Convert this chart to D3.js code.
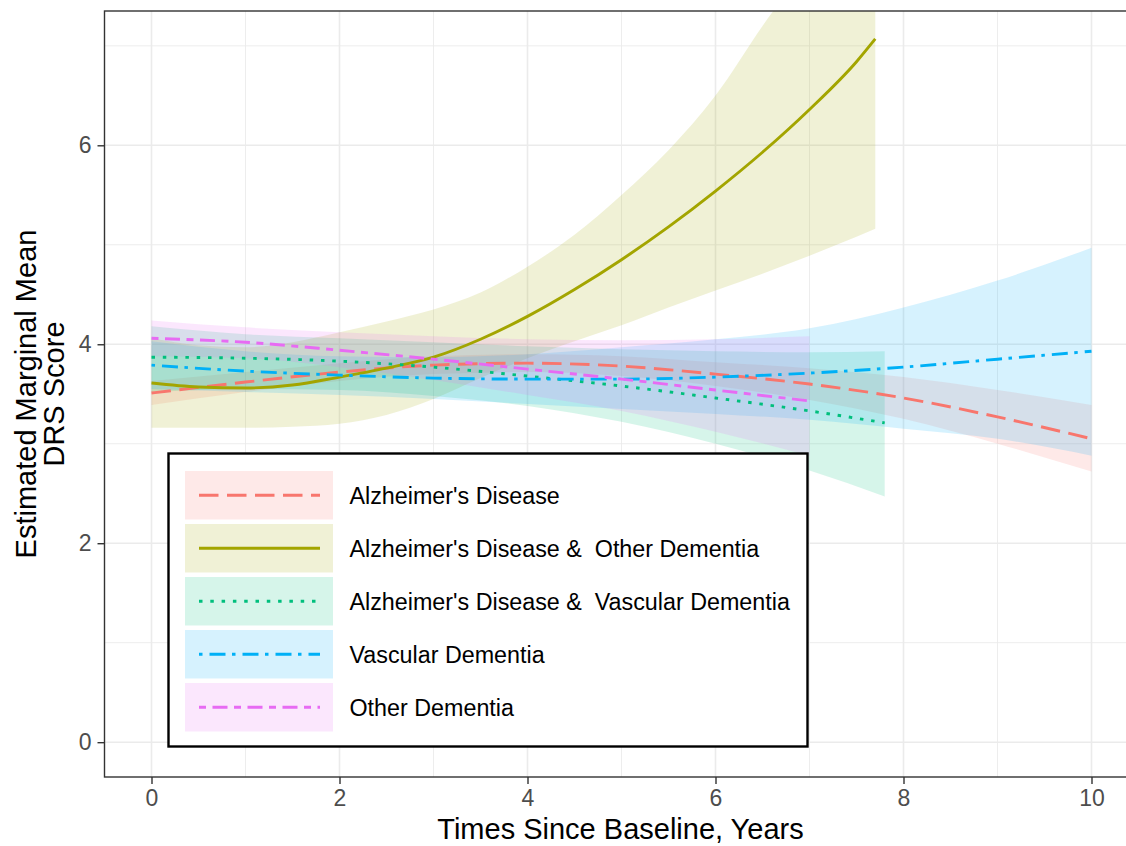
<!DOCTYPE html>
<html>
<head>
<meta charset="utf-8">
<script src="https://cdn.jsdelivr.net/npm/d3@7"></script>
<style>
  body { margin: 0; background: #fff; }
  text { font-family: "Liberation Sans", Arial, Helvetica, sans-serif; }
</style>
</head>
<body>
<svg id="chart" width="1126" height="846"></svg>
<script>
// Diagnostic groups
const groupNames = [
  "Alzheimer's Disease",
  "Alzheimer's Disease &  Other Dementia",
  "Alzheimer's Disease &  Vascular Dementia",
  "Vascular Dementia",
  "Other Dementia"
];

// Estimated marginal means (with 95% CI) by years since baseline
const timeAD  = [0, 1, 2, 3, 4, 5, 6, 7, 8, 9, 10];
const estAD   = [3.51, 3.62, 3.72, 3.79, 3.81, 3.78, 3.70, 3.60, 3.46, 3.27, 3.05];
const lowAD   = [3.39, 3.52, 3.63, 3.70, 3.72, 3.68, 3.58, 3.44, 3.25, 3.00, 2.72];
const highAD  = [3.63, 3.72, 3.81, 3.88, 3.90, 3.88, 3.82, 3.76, 3.67, 3.54, 3.39];

const timeADOD = [0, 0.5, 1, 1.5, 2, 2.5, 3, 3.5, 4, 4.5, 5, 5.5, 6, 6.5, 7, 7.5, 7.7];
const estADOD  = [3.61, 3.57, 3.56, 3.59, 3.67, 3.76, 3.87, 4.05, 4.28, 4.55, 4.85, 5.18, 5.54, 5.93, 6.36, 6.84, 7.07];
const lowADOD  = [3.16, 3.16, 3.16, 3.17, 3.20, 3.29, 3.45, 3.66, 3.86, 4.03, 4.19, 4.37, 4.54, 4.71, 4.89, 5.08, 5.16];
const highADOD = [4.06, 3.99, 3.97, 4.02, 4.12, 4.23, 4.35, 4.52, 4.78, 5.10, 5.50, 5.95, 6.50, 7.20, 7.85, 8.60, 8.95];

const timeADVD = [0, 1, 2, 3, 4, 5, 6, 7, 7.8];
const estADVD  = [3.87, 3.86, 3.83, 3.77, 3.68, 3.58, 3.46, 3.33, 3.21];
const lowADVD  = [3.52, 3.55, 3.54, 3.48, 3.38, 3.22, 3.00, 2.73, 2.47];
const highADVD = [4.18, 4.10, 4.06, 4.02, 3.98, 3.95, 3.93, 3.92, 3.93];

const timeVD = [0, 1, 2, 3, 4, 5, 6, 7, 8, 9, 10];
const estVD  = [3.79, 3.73, 3.69, 3.66, 3.65, 3.65, 3.67, 3.71, 3.77, 3.85, 3.93];
const lowVD  = [3.55, 3.52, 3.49, 3.45, 3.40, 3.35, 3.30, 3.24, 3.15, 3.05, 2.88];
const highVD = [4.03, 3.93, 3.88, 3.87, 3.90, 3.97, 4.05, 4.16, 4.37, 4.64, 4.97];

const timeOD = [0, 1, 2, 3, 4, 5, 6, 7];
const estOD  = [4.06, 4.02, 3.94, 3.85, 3.75, 3.65, 3.54, 3.43];
const lowOD  = [3.88, 3.86, 3.77, 3.64, 3.49, 3.33, 3.12, 2.88];
const highOD = [4.24, 4.17, 4.12, 4.08, 4.05, 4.04, 4.05, 4.08];

// Axis ticks
const xTicks = [0, 2, 4, 6, 8, 10];
const yTicks = [0, 2, 4, 6];
const xMinor = [1, 3, 5, 7, 9];
const yMinor = [1, 3, 5, 7];

// Styling per group
const groupColors = ["#F8766D", "#A3A500", "#00BF7D", "#00B0F6", "#E76BF3"];
const groupDashes = ["19.5 8.5", null, "3.5 7.8", "3.5 7 16 6.5", "7 6.5 15 6.5"];
const ribbonOpacity = 0.16;

const seriesData = [
  { t: timeAD,   est: estAD,   lo: lowAD,   hi: highAD },
  { t: timeADOD, est: estADOD, lo: lowADOD, hi: highADOD },
  { t: timeADVD, est: estADVD, lo: lowADVD, hi: highADVD },
  { t: timeVD,   est: estVD,   lo: lowVD,   hi: highVD },
  { t: timeOD,   est: estOD,   lo: lowOD,   hi: highOD }
].map((s, i) => ({
  name: groupNames[i],
  color: groupColors[i],
  dash: groupDashes[i],
  points: s.t.map((t, j) => ({ t, est: s.est[j], lo: s.lo[j], hi: s.hi[j] }))
}));

const svg = d3.select("#chart");
const W = 1126, H = 846;
const panel = { left: 104.5, top: 11, right: 1138.5, bottom: 777 };

const x = d3.scaleLinear().domain([-0.5, 10.5]).range([panel.left, panel.right]);
const y = d3.scaleLinear().domain([-0.35, 7.35]).range([panel.bottom, panel.top]);

svg.append("rect").attr("width", W).attr("height", H).attr("fill", "#fff");

svg.append("defs").append("clipPath").attr("id", "panelClip")
  .append("rect")
  .attr("x", panel.left).attr("y", panel.top)
  .attr("width", panel.right - panel.left).attr("height", panel.bottom - panel.top);

// Grid
const grid = svg.append("g");
grid.selectAll(".vminor").data(xMinor).join("line")
  .attr("x1", d => x(d)).attr("x2", d => x(d))
  .attr("y1", panel.top).attr("y2", panel.bottom)
  .attr("stroke", "#EBEBEB").attr("stroke-width", 0.9);
grid.selectAll(".hminor").data(yMinor).join("line")
  .attr("y1", d => y(d)).attr("y2", d => y(d))
  .attr("x1", panel.left).attr("x2", panel.right)
  .attr("stroke", "#EBEBEB").attr("stroke-width", 0.9);
grid.selectAll(".vmajor").data(xTicks).join("line")
  .attr("x1", d => x(d)).attr("x2", d => x(d))
  .attr("y1", panel.top).attr("y2", panel.bottom)
  .attr("stroke", "#EBEBEB").attr("stroke-width", 1.6);
grid.selectAll(".hmajor").data(yTicks).join("line")
  .attr("y1", d => y(d)).attr("y2", d => y(d))
  .attr("x1", panel.left).attr("x2", panel.right)
  .attr("stroke", "#EBEBEB").attr("stroke-width", 1.6);

// Confidence ribbons
const area = d3.area()
  .x(d => x(d.t)).y0(d => y(d.lo)).y1(d => y(d.hi))
  .curve(d3.curveMonotoneX);
const plot = svg.append("g").attr("clip-path", "url(#panelClip)");
plot.selectAll(".ribbon").data(seriesData).join("path")
  .attr("d", d => area(d.points))
  .attr("fill", d => d.color)
  .attr("fill-opacity", ribbonOpacity);

// Estimate lines
const line = d3.line()
  .x(d => x(d.t)).y(d => y(d.est))
  .curve(d3.curveMonotoneX);
plot.selectAll(".est").data(seriesData).join("path")
  .attr("d", d => line(d.points))
  .attr("fill", "none")
  .attr("stroke", d => d.color)
  .attr("stroke-width", 2.9)
  .attr("stroke-dasharray", d => d.dash);

// Panel border
svg.append("rect")
  .attr("x", panel.left).attr("y", panel.top)
  .attr("width", panel.right - panel.left).attr("height", panel.bottom - panel.top)
  .attr("fill", "none").attr("stroke", "#333333").attr("stroke-width", 1.4);

// Axes
const xAxis = d3.axisBottom(x).tickValues(xTicks).tickSize(7).tickPadding(6).tickFormat(d3.format("d"));
const gx = svg.append("g").attr("transform", `translate(0,${panel.bottom})`).call(xAxis);
gx.select(".domain").remove();
gx.selectAll(".tick line").attr("stroke", "#333333").attr("stroke-width", 1.4);
gx.selectAll(".tick text").attr("fill", "#4D4D4D").attr("font-size", 23)
  .style("font-family", "'Liberation Sans', Arial, sans-serif");

const yAxis = d3.axisLeft(y).tickValues(yTicks).tickSize(7).tickPadding(6).tickFormat(d3.format("d"));
const gy = svg.append("g").attr("transform", `translate(${panel.left},0)`).call(yAxis);
gy.select(".domain").remove();
gy.selectAll(".tick line").attr("stroke", "#333333").attr("stroke-width", 1.4);
gy.selectAll(".tick text").attr("fill", "#4D4D4D").attr("font-size", 23)
  .style("font-family", "'Liberation Sans', Arial, sans-serif");

// Axis titles
svg.append("text")
  .attr("x", (panel.left + panel.right) / 2 - 1).attr("y", 839)
  .attr("text-anchor", "middle").attr("font-size", 29).attr("fill", "#000")
  .text("Times Since Baseline, Years");

const yTitle = svg.append("text")
  .attr("transform", `translate(0,${(panel.top + panel.bottom) / 2}) rotate(-90)`)
  .attr("text-anchor", "middle").attr("font-size", 29).attr("fill", "#000");
yTitle.append("tspan").attr("x", 0).attr("y", 36).text("Estimated Marginal Mean");
yTitle.append("tspan").attr("x", 0).attr("y", 64).text("DRS Score");

// Legend
const legend = { left: 168.5, top: 453.5, width: 639, height: 293 };
const lg = svg.append("g");
lg.append("rect")
  .attr("x", legend.left).attr("y", legend.top)
  .attr("width", legend.width).attr("height", legend.height)
  .attr("fill", "#fff").attr("stroke", "#000").attr("stroke-width", 2.4);

const keyX = 185, keyW = 148, keyH = 48.5, keyTop = 471, rowStep = 53;
const rows = lg.selectAll(".row").data(seriesData).join("g")
  .attr("transform", (d, i) => `translate(0,${keyTop + i * rowStep})`);
rows.append("rect")
  .attr("x", keyX).attr("y", 0).attr("width", keyW).attr("height", keyH)
  .attr("fill", d => d.color).attr("fill-opacity", ribbonOpacity);
rows.append("line")
  .attr("x1", 199).attr("x2", 320)
  .attr("y1", keyH / 2).attr("y2", keyH / 2)
  .attr("stroke", d => d.color).attr("stroke-width", 2.9)
  .attr("stroke-dasharray", d => d.dash);
rows.append("text")
  .attr("x", 349.5).attr("y", keyH / 2 + 8.3)
  .attr("font-size", 23.3).attr("fill", "#000")
  .style("white-space", "pre")
  .text(d => d.name);
</script>
</body>
</html>
